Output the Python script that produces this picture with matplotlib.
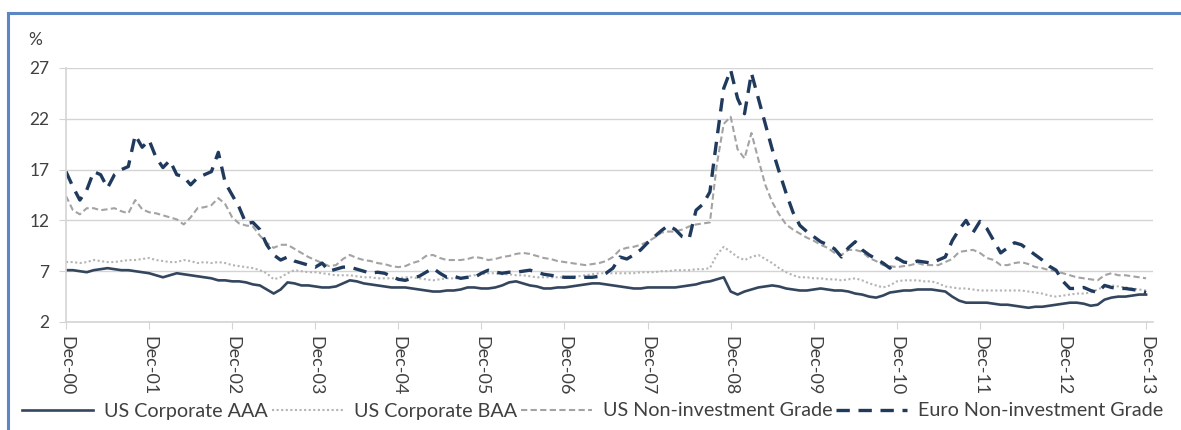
import numpy as np
import matplotlib
matplotlib.use("Agg")
import matplotlib.pyplot as plt
from matplotlib.lines import Line2D

plt.rcParams['font.family'] = ['Lato', 'DejaVu Sans']

# monthly, Dec-00 .. Dec-13
euro_ni = [16.8,
    15.3, 14.0, 15.0, 16.8, 16.5, 15.2, 16.5, 17.0, 17.3, 20.4, 19.2, 19.9,
    18.2, 17.2, 17.9, 16.5, 16.3, 15.5, 16.2, 16.5, 16.8, 18.7, 15.7, 14.5,
    13.3, 11.7, 11.8, 11.1, 9.6, 8.6, 8.1, 8.4, 8.0, 7.8, 7.6, 7.4,
    7.8, 7.0, 7.2, 7.4, 7.4, 7.2, 7.0, 6.8, 6.9, 6.8, 6.5, 6.2,
    6.1, 6.3, 6.5, 6.9, 7.3, 6.8, 6.4, 6.5, 6.3, 6.4, 6.4, 6.8,
    7.1, 6.9, 6.8, 6.9, 6.9, 7.0, 7.1, 6.9, 6.7, 6.6, 6.5, 6.4,
    6.4, 6.4, 6.4, 6.4, 6.5, 6.8, 7.3, 8.4, 8.2, 8.6, 9.1, 9.8,
    10.4, 11.0, 11.5, 11.1, 10.4, 10.2, 13.0, 13.6, 14.8, 20.0, 25.0, 26.8,
    24.0, 22.5, 26.5, 24.0, 21.5, 19.0, 16.8, 14.7, 12.8, 11.5, 10.9, 10.4,
    9.9, 9.6, 9.2, 8.4, 9.3, 9.9, 9.1, 8.6, 8.2, 7.8, 7.3, 8.3,
    7.9, 7.8, 8.0, 7.9, 7.8, 8.1, 8.4, 10.0, 11.1, 12.0, 10.8, 11.9,
    11.2, 10.0, 8.8, 9.3, 9.8, 9.6, 9.1, 8.6, 8.1, 7.5, 7.1, 6.0,
    5.3, 5.3, 5.4, 5.1, 4.9, 5.6, 5.4, 5.3, 5.3, 5.2, 5.1, 4.9]

us_ni = [14.4,
    13.0, 12.6, 13.2, 13.2, 13.0, 13.1, 13.2, 12.9, 12.7, 14.0, 13.1, 12.8,
    12.7, 12.5, 12.3, 12.1, 11.6, 12.3, 13.2, 13.3, 13.5, 14.2, 13.6, 12.3,
    11.7, 11.5, 11.4, 10.5, 9.8, 9.3, 9.6, 9.6, 9.2, 8.8, 8.4, 8.1,
    7.8, 7.5, 7.6, 8.2, 8.6, 8.3, 8.1, 8.0, 7.8, 7.7, 7.5, 7.4,
    7.5, 7.8, 8.0, 8.5, 8.6, 8.3, 8.1, 8.1, 8.1, 8.2, 8.4, 8.3,
    8.1, 8.2, 8.4, 8.5, 8.7, 8.8, 8.7, 8.5, 8.3, 8.2, 8.0, 7.9,
    7.8, 7.7, 7.6, 7.7, 7.8, 8.0, 8.4, 9.1, 9.3, 9.4, 9.6, 9.9,
    10.3, 10.8, 10.9, 10.9, 11.1, 11.4, 11.6, 11.7, 11.8, 17.5, 21.5, 22.2,
    19.0, 18.1, 20.6, 18.0, 15.5, 13.8, 12.6, 11.6, 11.1, 10.7, 10.3, 10.0,
    9.6, 9.3, 8.8, 8.6, 9.1, 9.1, 8.9, 8.3, 8.0, 7.6, 7.5, 7.4,
    7.5, 7.6, 7.8, 7.6, 7.6, 7.6, 7.9, 8.2, 8.9, 9.0, 9.1, 8.8,
    8.3, 8.1, 7.6, 7.6, 7.8, 7.9, 7.7, 7.4, 7.3, 7.1, 7.0, 6.8,
    6.6, 6.4, 6.3, 6.2, 6.1, 6.6, 6.8, 6.6, 6.6, 6.5, 6.4, 6.3]

us_baa = [7.9,
    7.9, 7.8, 7.9, 8.1, 8.0, 7.9, 7.9, 8.0, 8.1, 8.1, 8.2, 8.3,
    8.1, 8.0, 7.9, 7.9, 8.1, 8.0, 7.8, 7.9, 7.8, 7.9, 7.8, 7.6,
    7.5, 7.4, 7.3, 7.1, 6.8, 6.2, 6.4, 6.8, 7.1, 7.0, 6.9, 6.9,
    6.8, 6.7, 6.6, 6.6, 6.6, 6.5, 6.4, 6.4, 6.3, 6.3, 6.3, 6.3,
    6.4, 6.4, 6.3, 6.2, 6.1, 6.2, 6.3, 6.3, 6.3, 6.5, 6.6, 6.7,
    6.8, 6.8, 6.7, 6.7, 6.6, 6.6, 6.5, 6.4, 6.4, 6.4, 6.4, 6.4,
    6.4, 6.5, 6.6, 6.7, 6.8, 6.8, 6.8, 6.8, 6.8, 6.8, 6.9, 6.9,
    6.9, 7.0, 7.0, 7.1, 7.1, 7.1, 7.2, 7.2, 7.3, 8.6, 9.4, 8.9,
    8.4, 8.1, 8.4, 8.6, 8.2, 7.8, 7.3, 6.9, 6.6, 6.4, 6.4, 6.3,
    6.3, 6.2, 6.2, 6.1, 6.2, 6.3, 6.1, 5.8, 5.6, 5.4, 5.6, 6.0,
    6.1, 6.1, 6.1, 6.0, 6.0, 5.8, 5.5, 5.4, 5.3, 5.3, 5.2, 5.1,
    5.1, 5.1, 5.1, 5.1, 5.1, 5.1, 5.0, 4.9, 4.8, 4.6, 4.5, 4.6,
    4.7, 4.8, 4.8, 4.9, 5.2, 5.5, 5.6, 5.5, 5.4, 5.3, 5.2, 5.1]

us_aaa = [7.1,
    7.1, 7.0, 6.9, 7.1, 7.2, 7.3, 7.2, 7.1, 7.1, 7.0, 6.9, 6.8,
    6.6, 6.4, 6.6, 6.8, 6.7, 6.6, 6.5, 6.4, 6.3, 6.1, 6.1, 6.0,
    6.0, 5.9, 5.7, 5.6, 5.2, 4.8, 5.2, 5.9, 5.8, 5.6, 5.6, 5.5,
    5.4, 5.4, 5.5, 5.8, 6.1, 6.0, 5.8, 5.7, 5.6, 5.5, 5.4, 5.4,
    5.4, 5.3, 5.2, 5.1, 5.0, 5.0, 5.1, 5.1, 5.2, 5.4, 5.4, 5.3,
    5.3, 5.4, 5.6, 5.9, 6.0, 5.8, 5.6, 5.5, 5.3, 5.3, 5.4, 5.4,
    5.5, 5.6, 5.7, 5.8, 5.8, 5.7, 5.6, 5.5, 5.4, 5.3, 5.3, 5.4,
    5.4, 5.4, 5.4, 5.4, 5.5, 5.6, 5.7, 5.9, 6.0, 6.2, 6.4, 5.0,
    4.7, 5.0, 5.2, 5.4, 5.5, 5.6, 5.5, 5.3, 5.2, 5.1, 5.1, 5.2,
    5.3, 5.2, 5.1, 5.1, 5.0, 4.8, 4.7, 4.5, 4.4, 4.6, 4.9, 5.0,
    5.1, 5.1, 5.2, 5.2, 5.2, 5.1, 5.0, 4.5, 4.1, 3.9, 3.9, 3.9,
    3.9, 3.8, 3.7, 3.7, 3.6, 3.5, 3.4, 3.5, 3.5, 3.6, 3.7, 3.8,
    3.9, 3.9, 3.8, 3.6, 3.7, 4.2, 4.4, 4.5, 4.5, 4.6, 4.7, 4.7]

tick_labels = ["Dec-00", "Dec-01", "Dec-02", "Dec-03", "Dec-04", "Dec-05", "Dec-06",
               "Dec-07", "Dec-08", "Dec-09", "Dec-10", "Dec-11", "Dec-12", "Dec-13"]
y_ticks = [2, 7, 12, 17, 22, 27]

x = np.arange(len(us_aaa))

W, H = 1181, 430
fig = plt.figure(figsize=(W / 100, H / 100), dpi=100)
ax = fig.add_axes([66 / W, 1 - 322 / H, (1153 - 66) / W, (322 - 68) / H])

txt = '#404040'
grid = '#D4D4D4'

l1, = ax.plot(x, us_aaa, color='#34465E', lw=1.9, label='US Corporate AAA')
l2, = ax.plot(x, us_baa, color='#B4B4B4', lw=1.5, ls=(0, (1, 1.2)), label='US Corporate BAA')
l3, = ax.plot(x, us_ni, color='#A3A3A3', lw=1.5, ls=(0, (3, 1.6)), label='US Non-investment Grade')
l4, = ax.plot(x, euro_ni, color='#1F3A5C', lw=2.4, ls=(0, (4, 2.6)), label='Euro Non-investment Grade')

ax.set_xlim(0, 157)
ax.set_ylim(2, 27)
ax.set_yticks(y_ticks)
ax.set_xticks(np.arange(0, 157, 12))
ax.set_xticklabels(tick_labels, rotation=-90, fontsize=13, color=txt)
ax.tick_params(axis='y', labelsize=12.5, colors=txt, length=5, color=grid, pad=7)
ax.tick_params(axis='x', length=5, color=grid, pad=5)
ax.grid(axis='y', color=grid, lw=1)
ax.set_axisbelow(True)
for s in ['top', 'right']:
    ax.spines[s].set_visible(False)
ax.spines['left'].set_color(grid)
ax.spines['bottom'].set_color(grid)
ax.spines['left'].set_linewidth(1.2)
ax.spines['bottom'].set_linewidth(1.2)

fig.text(28 / W, 1 - 40 / H, '%', fontsize=12.5, color=txt, va='center')

fig.legend(handles=[l1, l2, l3, l4], loc='center', bbox_to_anchor=(0.502, 1 - 411 / H),
           ncol=4, frameon=False, fontsize=14.2, handlelength=3.6, handletextpad=0.55,
           columnspacing=0.2, labelcolor=txt)

# blue outline of the chart box (left and top visible)
fig.add_artist(Line2D([8 / W, 8 / W], [0, 1 - 13 / H], color='#5B87C5', lw=2.2))
fig.add_artist(Line2D([8 / W, 1], [1 - 13 / H, 1 - 13 / H], color='#5B87C5', lw=2.2))

fig.savefig('out.png', dpi=100)
